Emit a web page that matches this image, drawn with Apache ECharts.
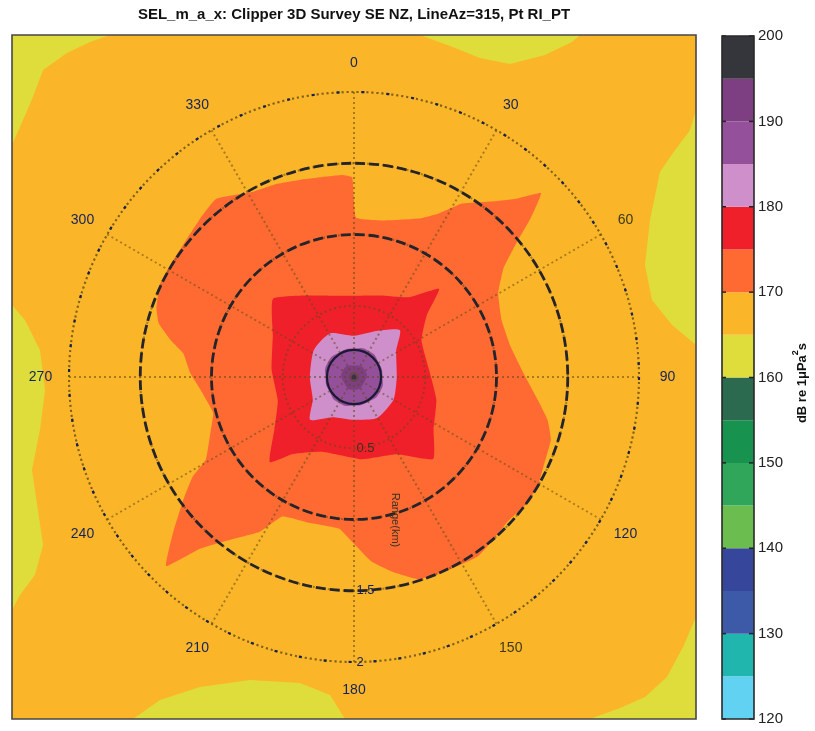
<!DOCTYPE html>
<html>
<head>
<meta charset="utf-8">
<script src="https://cdn.jsdelivr.net/npm/echarts@6.0.0/dist/echarts.min.js"></script>
<style>
  html, body { margin: 0; padding: 0; background: #ffffff; }
  #chart { width: 815px; height: 731px; }
</style>
</head>
<body>
<div id="chart"></div>
<script>
// Colour scale: 5 dB bands from 120 to 200 dB re 1 µPa²s
const levelEdges = [120, 125, 130, 135, 140, 145, 150, 155, 160, 165, 170, 175, 180, 185, 190, 195, 200];
const levelColors = [
  '#62d2f2', '#20b5ad', '#3d5aa8', '#36469a',
  '#6bbd4f', '#2fa65a', '#17934f', '#2b6a4e',
  '#dedd3c', '#fbb529', '#ff6a33', '#f0202a',
  '#cf8fcb', '#94509a', '#7e3f82', '#35363c'
];
const colorbarTicks = [120, 130, 140, 150, 160, 170, 180, 190, 200];

// Contour outlines around the source: [azimuth (deg from north, clockwise), range (km)]
const sel170 = [
  [0.7, 1.12], [11.2, 1.12], [22.1, 1.20], [27.3, 1.29], [31.8, 1.43], [37.9, 1.56],
  [42.5, 1.70], [45.5, 1.84], [48.0, 1.67], [50.3, 1.49], [53.9, 1.30], [59.9, 1.17],
  [69.0, 1.11], [79.2, 1.12], [88.7, 1.19], [97.1, 1.30], [102.4, 1.39], [107.7, 1.45],
  [115.2, 1.47], [120.7, 1.50], [127.2, 1.50], [133.3, 1.48], [139.1, 1.50], [145.2, 1.53],
  [153.1, 1.51], [162.2, 1.49], [169.0, 1.39], [174.6, 1.30], [180.0, 1.17], [185.6, 1.07],
  [197.1, 1.07], [207.2, 1.10], [211.3, 1.27], [216.8, 1.42], [221.9, 1.62], [224.8, 1.87],
  [229.4, 1.67], [234.4, 1.47], [238.3, 1.33], [240.9, 1.19], [248.9, 1.08], [255.8, 1.02],
  [265.2, 1.08], [271.4, 1.15], [277.9, 1.21], [281.3, 1.31], [285.3, 1.42], [289.4, 1.47],
  [295.7, 1.51], [301.6, 1.51], [309.0, 1.52], [315.9, 1.55], [322.3, 1.58], [331.4, 1.48],
  [337.8, 1.46], [346.2, 1.43], [356.6, 1.42], [359.5, 1.40]
];
const sel175 = [
  [0, 0.57], [17.8, 0.60], [34.6, 0.68], [44.0, 0.86], [49.7, 0.67], [61.4, 0.54],
  [84.7, 0.53], [105.5, 0.60], [123.5, 0.67], [136.0, 0.80], [151.1, 0.62], [174.5, 0.58],
  [203.1, 0.57], [218.5, 0.69], [224.7, 0.84], [236.5, 0.67], [252.7, 0.56], [275.0, 0.58],
  [297.1, 0.64], [313.9, 0.79], [328.5, 0.67], [345.3, 0.59]
];
const sel180 = [
  [0, 0.29], [26.1, 0.36], [44.4, 0.46], [57.9, 0.35], [90, 0.30], [119.9, 0.32],
  [150.7, 0.33], [180, 0.30], [208.2, 0.32], [225.7, 0.43], [241.3, 0.33], [270, 0.31],
  [304, 0.34], [331.4, 0.35]
];
const sel185 = [
  [0, 0.20], [30, 0.21], [60, 0.20], [90, 0.20], [120, 0.21], [150, 0.20],
  [180, 0.20], [210, 0.21], [240, 0.20], [270, 0.20], [300, 0.21], [330, 0.20]
];
const sel190 = [[0, 0.08], [60, 0.09], [120, 0.08], [180, 0.09], [240, 0.08], [300, 0.09]];
const sel195 = [[0, 0.02], [120, 0.02], [240, 0.02]];

// Lower-level (160–165 dB) patches along the map edges: [east (km), north (km)]
const patchTopLeft = [[-2.4, 2.4], [-1.712, 2.4], [-1.853, 2.351], [-2.014, 2.274], [-2.182, 2.154], [-2.253, 1.965], [-2.344, 1.754], [-2.4, 1.628]];
const patchTop = [[0.463, 2.4], [1.586, 2.4], [1.530, 2.351], [1.340, 2.260], [1.095, 2.196], [0.884, 2.239], [0.674, 2.323]];
const patchRight = [[2.4, 1.874], [2.358, 1.733], [2.253, 1.593], [2.147, 1.439], [2.077, 1.102], [2.042, 0.786], [2.091, 0.540], [2.232, 0.365], [2.4, 0.225]];
const patchLeft = [[-2.4, 0.505], [-2.309, 0.400], [-2.204, 0.189], [-2.168, -0.091], [-2.204, -0.372], [-2.260, -0.653], [-2.218, -0.933], [-2.182, -1.179], [-2.239, -1.389], [-2.344, -1.530], [-2.4, -1.635]];
const patchBottom = [[-1.551, -2.4], [-1.361, -2.267], [-1.081, -2.175], [-0.730, -2.126], [-0.379, -2.147], [-0.168, -2.232], [-0.063, -2.4]];
const patchBottomRight = [[1.656, -2.4], [1.867, -2.323], [2.042, -2.246], [2.196, -2.105], [2.309, -1.895], [2.4, -1.684], [2.4, -2.4]];

// Polar grid
const angleTicks = [0, 30, 60, 90, 120, 150, 180, 210, 240, 270, 300, 330];
const rangeTicks = [0.5, 1.5, 2];
const dashedRings = [1, 1.5];
const sourceRing = 0.19;

const MAP_MIN = -2.4, MAP_MAX = 2.4;
const MAP_LEFT = 12, MAP_TOP = 35, MAP_SIZE = 684;
const PX_PER_KM = MAP_SIZE / (MAP_MAX - MAP_MIN);
const CENTER = [MAP_LEFT + MAP_SIZE / 2, MAP_TOP + MAP_SIZE / 2];
const GRID_RANGE = 2;
const LABEL_RANGE = 2.2;

const bandColor = v => levelColors[levelEdges.indexOf(v)];
const toXY = p => {
  const a = p[0] * Math.PI / 180;
  return [p[1] * Math.sin(a), p[1] * Math.cos(a)];
};

const edgePatches = [patchTopLeft, patchTop, patchRight, patchLeft, patchBottom, patchBottomRight];
const contours = [
  { level: 170, outline: sel170, smooth: 0.12 },
  { level: 175, outline: sel175, smooth: 0.15 },
  { level: 180, outline: sel180, smooth: 0.2 },
  { level: 185, outline: sel185, smooth: 0.6 },
  { level: 190, outline: sel190, smooth: 0.6 },
  { level: 195, outline: sel195, smooth: 0.6 }
];

const gridDots = { color: 'rgba(95,75,20,0.55)', width: 2, type: [2, 3] };
const navy = '#13235a';
const olive = '#3e3a18';
const labelFont = '"Liberation Sans", Arial, sans-serif';

// circle through a given range on the polar grid
const ringItem = (api, range, style) => {
  const c = api.coord([0, 0]);
  const p = api.coord([range, 0]);
  return { type: 'circle', shape: { cx: c[0], cy: c[1], r: Math.hypot(p[0] - c[0], p[1] - c[1]) },
    style: Object.assign({ fill: 'none' }, style) };
};

const chart = echarts.init(document.getElementById('chart'), null, { renderer: 'canvas' });

chart.setOption({
  animation: false,
  backgroundColor: '#ffffff',
  grid: [
    { left: MAP_LEFT, top: MAP_TOP, width: MAP_SIZE, height: MAP_SIZE, show: true,
      backgroundColor: bandColor(165), borderWidth: 0, outerBoundsMode: 'none', containLabel: false },
    { left: 722, top: 36, width: 32, height: 683, show: false, outerBoundsMode: 'none', containLabel: false }
  ],
  xAxis: [
    { gridIndex: 0, type: 'value', min: MAP_MIN, max: MAP_MAX, show: false },
    { gridIndex: 1, type: 'value', min: 0, max: 1, show: false }
  ],
  yAxis: [
    { gridIndex: 0, type: 'value', min: MAP_MIN, max: MAP_MAX, show: false },
    { gridIndex: 1, type: 'value', min: 120, max: 200, interval: 10, position: 'right', z: 6,
      axisLine: { show: false },
      axisTick: { show: false },
      axisLabel: { show: true, margin: 4, fontSize: 15, color: '#222', fontFamily: labelFont },
      splitLine: { show: false } }
  ],
  polar: { center: CENTER, radius: GRID_RANGE * PX_PER_KM },
  angleAxis: {
    type: 'value', min: 0, max: 360, interval: 30, startAngle: 90, clockwise: true, z: 5,
    axisLine: { show: true, lineStyle: gridDots },
    axisTick: { show: false }, axisLabel: { show: false },
    splitLine: { show: true, lineStyle: gridDots }
  },
  radiusAxis: {
    type: 'value', min: 0, max: GRID_RANGE, interval: 0.5, z: 5,
    axisLine: { show: false }, axisTick: { show: false }, axisLabel: { show: false },
    splitLine: { show: true, lineStyle: gridDots }
  },
  graphic: [
    { type: 'text', x: 354, y: 15, z: 10,
      style: { text: 'SEL_m_a_x: Clipper 3D Survey SE NZ, LineAz=315, Pt RI_PT',
        font: 'bold 15px "Liberation Sans", Arial, sans-serif', fill: '#111',
        textAlign: 'center', textVerticalAlign: 'middle' } },
    { type: 'text', x: 800, y: 383, rotation: Math.PI / 2, z: 10,
      style: { text: '{a|dB re 1μPa}{s|2}{a|s}', textAlign: 'center', textVerticalAlign: 'middle',
        rich: {
          a: { fontSize: 13, fontWeight: 'bold', fontFamily: labelFont, fill: '#111', lineHeight: 18, verticalAlign: 'bottom' },
          s: { fontSize: 9, fontWeight: 'bold', fontFamily: labelFont, fill: '#111', lineHeight: 18, verticalAlign: 'top' }
        } } },
    { type: 'text', x: 395, y: 520, rotation: -Math.PI / 2, z: 10,
      style: { text: 'Range(km)', font: '11px "Liberation Sans", Arial, sans-serif', fill: '#3a3320',
        textAlign: 'center', textVerticalAlign: 'middle' } }
  ],
  series: [
    // 160–165 dB patches
    {
      type: 'custom', coordinateSystem: 'cartesian2d', xAxisIndex: 0, yAxisIndex: 0, z: 1, silent: true, clip: true,
      data: edgePatches.map((p, i) => [0, 0, i]),
      renderItem: (params, api) => ({
        type: 'polygon',
        shape: { points: edgePatches[params.dataIndex].map(p => api.coord(p)) },
        style: { fill: bandColor(160) }
      })
    },
    // filled contours around the source
    {
      type: 'custom', coordinateSystem: 'cartesian2d', xAxisIndex: 0, yAxisIndex: 0, z: 2, silent: true,
      data: contours.map((c, i) => [0, 0, i]),
      renderItem: (params, api) => {
        const c = contours[params.dataIndex];
        return {
          type: 'polygon',
          shape: { points: c.outline.map(p => api.coord(toXY(p))), smooth: c.smooth },
          style: { fill: bandColor(c.level) }
        };
      }
    },
    // map frame
    {
      type: 'custom', coordinateSystem: 'cartesian2d', xAxisIndex: 0, yAxisIndex: 0, z: 8, silent: true,
      data: [[0, 0]],
      renderItem: (params, api) => {
        const a = api.coord([MAP_MIN, MAP_MAX]);
        const b = api.coord([MAP_MAX, MAP_MIN]);
        return { type: 'rect', shape: { x: a[0], y: a[1], width: b[0] - a[0], height: b[1] - a[1] },
          style: { fill: 'none', stroke: '#474747', lineWidth: 1.6 } };
      }
    },
    // dashed range rings
    {
      type: 'custom', coordinateSystem: 'polar', z: 6, silent: true,
      data: dashedRings.map(r => [r, 0]),
      renderItem: (params, api) => ringItem(api, api.value(0),
        { stroke: '#24242a', lineWidth: 2.8, lineDash: [10, 4] })
    },
    // navy marks along the outer ring
    {
      type: 'custom', coordinateSystem: 'polar', z: 6, silent: true,
      data: [[GRID_RANGE, 0]],
      renderItem: (params, api) => ringItem(api, api.value(0),
        { stroke: navy, lineWidth: 2.2, lineDash: [3, 22] })
    },
    // ring around the source point
    {
      type: 'custom', coordinateSystem: 'polar', z: 6, silent: true,
      data: [[sourceRing, 0]],
      renderItem: (params, api) => ringItem(api, api.value(0),
        { stroke: '#1a1a33', lineWidth: 2.2 })
    },
    // azimuth labels
    {
      type: 'scatter', coordinateSystem: 'polar', z: 9, silent: true, clip: false,
      symbolSize: 1, itemStyle: { color: 'rgba(0,0,0,0)', opacity: 1 },
      data: angleTicks.map(a => ({
        value: [LABEL_RANGE, a],
        label: { color: (a === 60 || a === 150) ? olive : navy }
      })),
      label: { show: true, position: 'inside', formatter: p => String(p.value[1]),
        fontSize: 14, fontFamily: labelFont, opacity: 1 }
    },
    // range labels
    {
      type: 'scatter', coordinateSystem: 'polar', z: 9, silent: true, clip: false,
      symbolSize: 1, itemStyle: { color: 'rgba(0,0,0,0)', opacity: 1 },
      data: rangeTicks.map(r => ({
        value: [r, 180],
        label: { color: r === 0.5 ? '#3a3320' : navy }
      })),
      label: { show: true, position: 'right', distance: 2, formatter: p => String(p.value[0]),
        fontSize: 13, fontFamily: labelFont, opacity: 1 }
    },
    // colour bar
    {
      type: 'custom', coordinateSystem: 'cartesian2d', xAxisIndex: 1, yAxisIndex: 1, z: 2, silent: true,
      data: levelColors.map((c, i) => [0, levelEdges[i], i]),
      renderItem: (params, api) => {
        const i = params.dataIndex;
        const a = api.coord([0, levelEdges[i + 1]]);
        const b = api.coord([1, levelEdges[i]]);
        return { type: 'rect', shape: { x: a[0], y: a[1], width: b[0] - a[0], height: b[1] - a[1] },
          style: { fill: levelColors[i] } };
      }
    },
    // colour bar ticks (both edges, pointing inward)
    {
      type: 'custom', coordinateSystem: 'cartesian2d', xAxisIndex: 1, yAxisIndex: 1, z: 7, silent: true,
      data: colorbarTicks.map(v => [0, v]),
      renderItem: (params, api) => {
        const l = api.coord([0, api.value(1)]);
        const r = api.coord([1, api.value(1)]);
        const st = { stroke: '#222', lineWidth: 1.5 };
        return { type: 'group', children: [
          { type: 'line', shape: { x1: l[0], y1: l[1], x2: l[0] + 4, y2: l[1] }, style: st },
          { type: 'line', shape: { x1: r[0] - 5, y1: r[1], x2: r[0], y2: r[1] }, style: st }
        ] };
      }
    },
    {
      type: 'custom', coordinateSystem: 'cartesian2d', xAxisIndex: 1, yAxisIndex: 1, z: 7, silent: true,
      data: [[0, 120]],
      renderItem: (params, api) => {
        const a = api.coord([0, levelEdges[levelEdges.length - 1]]);
        const b = api.coord([1, levelEdges[0]]);
        return { type: 'rect', shape: { x: a[0], y: a[1], width: b[0] - a[0], height: b[1] - a[1] },
          style: { fill: 'none', stroke: '#2a2a2a', lineWidth: 1.6 } };
      }
    }
  ]
});
</script>
</body>
</html>
